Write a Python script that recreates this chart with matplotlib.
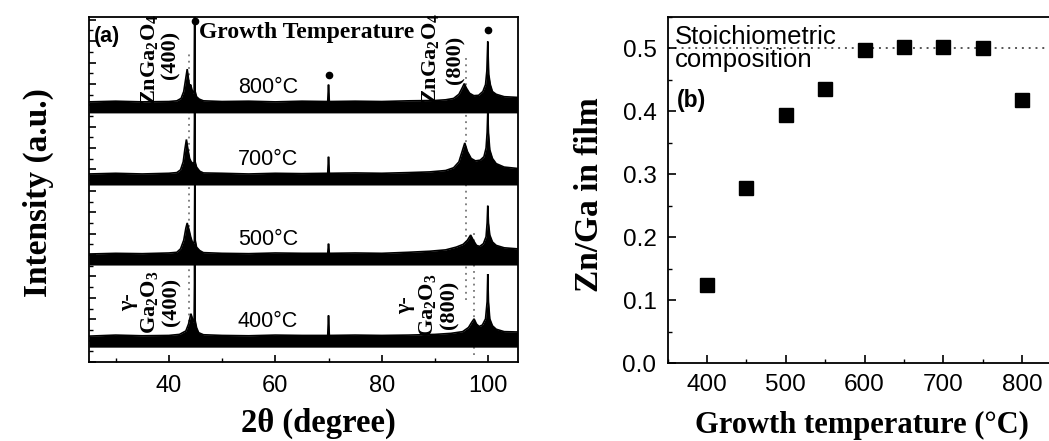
import matplotlib
matplotlib.use("Agg")
import matplotlib.pyplot as plt
from matplotlib.ticker import MultipleLocator, NullFormatter

# ---------------- XRD patterns (2theta in degrees, intensity above each baseline, a.u.) ----------------
TT_800 = [25.0, 30.0, 35.0, 40.0, 41.5, 42.3, 42.8, 43.2, 43.45, 43.7, 43.9, 44.1, 44.35, 44.6, 44.75,
          44.85, 44.95, 45.2, 45.7, 46.5, 50.0, 55.0, 60.0, 65.0, 69.85, 70.0, 70.15, 75.0, 80.0, 85.0,
          90.0, 92.0, 93.5, 94.5, 95.1, 95.5, 95.9, 96.5, 97.3, 98.2, 99.0, 99.5, 99.75, 99.85, 99.92,
          100.0, 100.1, 100.4, 100.8, 101.5, 103.0, 105.5]
I_800 = [0.0, 0.2, 0.0, 0.1, 0.3, 1.0, 3.0, 7.0, 9.5, 6.5, 4.5, 5.0, 3.5, 2.5, 3.0,
         30.0, 3.0, 1.5, 0.8, 0.3, 0.1, 0.2, 0.0, 0.2, 0.1, 5.0, 0.1, 0.2, 0.1, 0.3,
         0.4, 0.6, 1.0, 2.2, 4.0, 5.3, 4.0, 2.5, 1.8, 1.9, 3.0, 5.0, 9.0, 14.0, 17.5,
         13.0, 8.0, 5.0, 3.0, 2.2, 1.5, 1.3]

TT_700 = [25.0, 30.0, 35.0, 40.0, 41.5, 42.2, 42.7, 43.0, 43.3, 43.6, 43.9, 44.2, 44.6, 44.75,
          44.85, 44.95, 45.2, 45.8, 46.5, 50.0, 55.0, 60.0, 65.0, 69.85, 70.0, 70.15, 75.0, 80.0, 85.0,
          89.0, 92.0, 93.5, 94.5, 95.1, 95.6, 96.1, 96.8, 97.6, 98.5, 99.2, 99.6, 99.8, 99.92,
          100.05, 100.3, 100.8, 101.5, 103.0, 105.5]
I_700 = [0.0, 0.2, 0.0, 0.2, 0.4, 1.2, 3.5, 7.0, 10.0, 7.0, 4.5, 3.5, 3.0, 3.5,
         22.0, 3.5, 2.0, 0.8, 0.3, 0.2, 0.0, 0.2, 0.1, 0.2, 5.0, 0.2, 0.3, 0.2, 0.4,
         0.6, 1.0, 1.8, 3.5, 6.5, 9.0, 6.5, 4.5, 3.8, 4.0, 5.0, 7.5, 12.0, 18.0,
         12.0, 7.0, 4.5, 3.0, 2.0, 1.6]

TT_500 = [25.0, 30.0, 35.0, 40.0, 41.5, 42.2, 42.8, 43.2, 43.45, 43.8, 44.1, 44.4, 44.7,
          44.8, 44.88, 44.96, 45.2, 45.8, 46.5, 50.0, 55.0, 60.0, 65.0, 69.85, 70.0, 70.15, 75.0, 80.0,
          85.0, 89.0, 92.0, 94.0, 95.3, 96.1, 96.7, 97.2, 97.8, 98.4, 99.1, 99.6, 99.8, 99.92,
          100.05, 100.3, 100.8, 101.5, 103.0, 105.5]
I_500 = [0.0, 0.2, 0.1, 0.3, 0.5, 1.5, 4.0, 7.5, 9.0, 7.0, 5.0, 3.5, 3.0,
         4.0, 24.0, 4.0, 2.0, 1.0, 0.4, 0.2, 0.1, 0.3, 0.2, 0.2, 3.0, 0.2, 0.3, 0.2,
         0.5, 0.8, 1.2, 2.0, 2.8, 4.0, 5.5, 4.0, 2.5, 2.2, 3.0, 5.0, 9.0, 14.0,
         9.0, 5.5, 3.5, 2.5, 1.8, 1.5]

TT_400 = [25.0, 30.0, 35.0, 40.0, 42.0, 43.2, 43.7, 44.0, 44.15, 44.35, 44.6, 44.75,
          44.85, 44.95, 45.2, 45.6, 46.5, 50.0, 55.0, 60.0, 65.0, 69.85, 70.0, 70.15, 75.0, 80.0,
          85.0, 90.0, 93.0, 95.2, 96.3, 96.9, 97.35, 97.8, 98.3, 98.9, 99.5, 99.8, 99.92,
          100.05, 100.3, 100.8, 101.5, 103.0, 105.5]
I_400 = [0.0, 0.3, 0.1, 0.2, 0.5, 1.5, 3.5, 5.5, 6.5, 5.5, 4.0, 4.5,
         21.0, 4.5, 2.5, 1.0, 0.4, 0.2, 0.1, 0.3, 0.2, 0.2, 6.0, 0.2, 0.3, 0.2,
         0.3, 0.5, 0.8, 1.3, 2.5, 4.0, 5.0, 3.5, 2.8, 3.2, 5.0, 10.0, 18.0,
         10.0, 5.0, 3.0, 2.0, 1.3, 1.2]

XRD_LABELS = ["800\u00b0C", "700\u00b0C", "500\u00b0C", "400\u00b0C"]

# ---------------- Zn/Ga ratio vs growth temperature ----------------
growth_T = [400, 450, 500, 550, 600, 650, 700, 750, 800]
zn_ga = [0.124, 0.278, 0.394, 0.436, 0.498, 0.502, 0.502, 0.500, 0.418]
stoichiometric_ratio = 0.5

# ---------------- styling ----------------
SERIF = "Liberation Serif"
SANS = "Liberation Sans"
plt.rcParams["font.family"] = SANS
plt.rcParams["mathtext.fontset"] = "custom"
plt.rcParams["mathtext.rm"] = "Liberation Serif:bold"
plt.rcParams["mathtext.bf"] = "Liberation Serif:bold"
plt.rcParams["mathtext.it"] = "Liberation Serif:bold:italic"

W, H = 1049, 441
fig = plt.figure(figsize=(W / 100, H / 100), dpi=100)


def frac(x0, y0, x1, y1):
    """Pixel box (left, top, right, bottom) -> figure fraction rect."""
    return [x0 / W, 1 - y1 / H, (x1 - x0) / W, (y1 - y0) / H]


# ======================= panel (a) =======================
axa = fig.add_axes(frac(89, 17, 518, 362))
axa.set_xlim(25, 105.6)
axa.set_ylim(0, 100)

band = 3.2
traces = [(TT_800, I_800, 75.4), (TT_700, I_700, 54.5), (TT_500, I_500, 31.3), (TT_400, I_400, 7.5)]
for (tt, inten, off), lab in zip(traces, XRD_LABELS):
    top = [off + v for v in inten]
    axa.fill_between(tt, off - band, top, color="black", lw=0, zorder=3)
    axa.plot(tt, top, color="black", lw=1.2, zorder=3, solid_joinstyle="miter")
    axa.text(58.6, off + 1.2, lab, ha="center", va="bottom", fontsize=15.5,
             family=SANS, zorder=4)

# guide lines through the spinel and gamma-Ga2O3 reflections
dot_style = dict(color="#777777", lw=1.3, ls=(0, (1, 2.5)), zorder=2)
axa.plot([43.7, 43.7], [10, 90], **dot_style)
axa.plot([95.8, 95.8], [18, 88], **dot_style)
axa.plot([97.4, 97.4], [2, 38], **dot_style)

# substrate reflections
axa.plot([44.85, 70.0, 100.0], [98.8, 83.2, 96.2], "o", color="black", ms=4.5,
         clip_on=False, zorder=5)

axa.text(0.012, 0.975, "(a)", transform=axa.transAxes, ha="left", va="top",
         fontsize=15.5, fontweight="bold", family=SANS)
axa.text(65.9, 95.4, "Growth Temperature", ha="center", va="center",
         fontsize=17, fontweight="bold", family=SERIF, zorder=6)
axa.text(36.4, 87.8, r"ZnGa$_\mathbf{2}$O$_\mathbf{4}$", rotation=90, ha="center",
         va="center", fontsize=16, fontweight="bold", family=SERIF)
axa.text(40.3, 89.0, "(400)", rotation=90, ha="center", va="center",
         fontsize=16, fontweight="bold", family=SERIF)
axa.text(89.2, 88.0, r"ZnGa$_\mathbf{2}$O$_\mathbf{4}$", rotation=90, ha="center",
         va="center", fontsize=16, fontweight="bold", family=SERIF)
axa.text(93.9, 87.5, "(800)", rotation=90, ha="center", va="center",
         fontsize=16, fontweight="bold", family=SERIF)
axa.text(36.4, 17.4, "\u03b3-\nGa$_\\mathbf{2}$O$_\\mathbf{3}$\n(400)", rotation=90,
         ha="center", va="center", multialignment="center", linespacing=1.1,
         fontsize=16, fontweight="bold", family=SERIF)
axa.text(88.5, 16.5, "\u03b3-\nGa$_\\mathbf{2}$O$_\\mathbf{3}$\n(800)", rotation=90,
         ha="center", va="center", multialignment="center", linespacing=1.1,
         fontsize=16, fontweight="bold", family=SERIF)

axa.set_xticks([40, 60, 80, 100])
axa.xaxis.set_minor_locator(MultipleLocator(10))
axa.yaxis.set_major_locator(MultipleLocator(6.2))
axa.yaxis.set_minor_locator(MultipleLocator(3.1))
axa.yaxis.set_major_formatter(NullFormatter())
axa.tick_params(axis="both", which="major", direction="in", length=5, width=1.2,
                labelsize=17, pad=9)
axa.tick_params(axis="both", which="minor", direction="in", length=3, width=1.0)
axa.tick_params(axis="y", which="both", left=True, right=False)
axa.tick_params(axis="x", which="both", top=False)
for sp in axa.spines.values():
    sp.set_linewidth(1.3)

fig.text(38 / W, 1 - 193 / H, "Intensity (a.u.)", rotation=90, ha="center", va="center",
         fontsize=24, fontweight="bold", family=SERIF)
fig.text(318 / W, 1 - 423 / H, "2\u03b8 (degree)", ha="center", va="center",
         fontsize=23.5, fontweight="bold", family=SERIF)

# ======================= panel (b) =======================
axb = fig.add_axes(frac(667.6, 17, 1061.4, 363))
axb.set_xlim(350, 850)
axb.set_ylim(0, 0.55)
axb.axhline(stoichiometric_ratio, color="#555555", lw=1.4, ls=(0, (1, 2.5)), zorder=1)
axb.plot(growth_T, zn_ga, "s", color="black", ms=9.5, zorder=3)

axb.text(359.5, 0.537, "Stoichiometric\ncomposition", ha="left", va="top",
         fontsize=18.5, family=SANS, linespacing=0.92)
axb.text(362, 0.417, "(b)", ha="left", va="center", fontsize=16.5,
         fontweight="bold", family=SANS)

axb.xaxis.set_major_locator(MultipleLocator(100))
axb.xaxis.set_minor_locator(MultipleLocator(50))
axb.yaxis.set_major_locator(MultipleLocator(0.1))
axb.yaxis.set_minor_locator(MultipleLocator(0.05))
axb.yaxis.set_major_formatter(plt.FuncFormatter(lambda v, p: f"{v:.1f}"))
axb.tick_params(axis="both", which="major", direction="in", length=6, width=1.2,
                labelsize=17.5, pad=8)
axb.tick_params(axis="both", which="minor", direction="in", length=3, width=1.0)
axb.tick_params(axis="both", which="both", top=False, right=False)
for sp in axb.spines.values():
    sp.set_linewidth(1.3)

fig.text(590 / W, 1 - 195 / H, "Zn/Ga in film", rotation=90, ha="center", va="center",
         fontsize=24, fontweight="bold", family=SERIF)
fig.text(862 / W, 1 - 425 / H, "Growth temperature (\u00b0C)", ha="center", va="center",
         fontsize=22, fontweight="bold", family=SERIF)

fig.savefig("out.png", dpi=100, facecolor="white")
